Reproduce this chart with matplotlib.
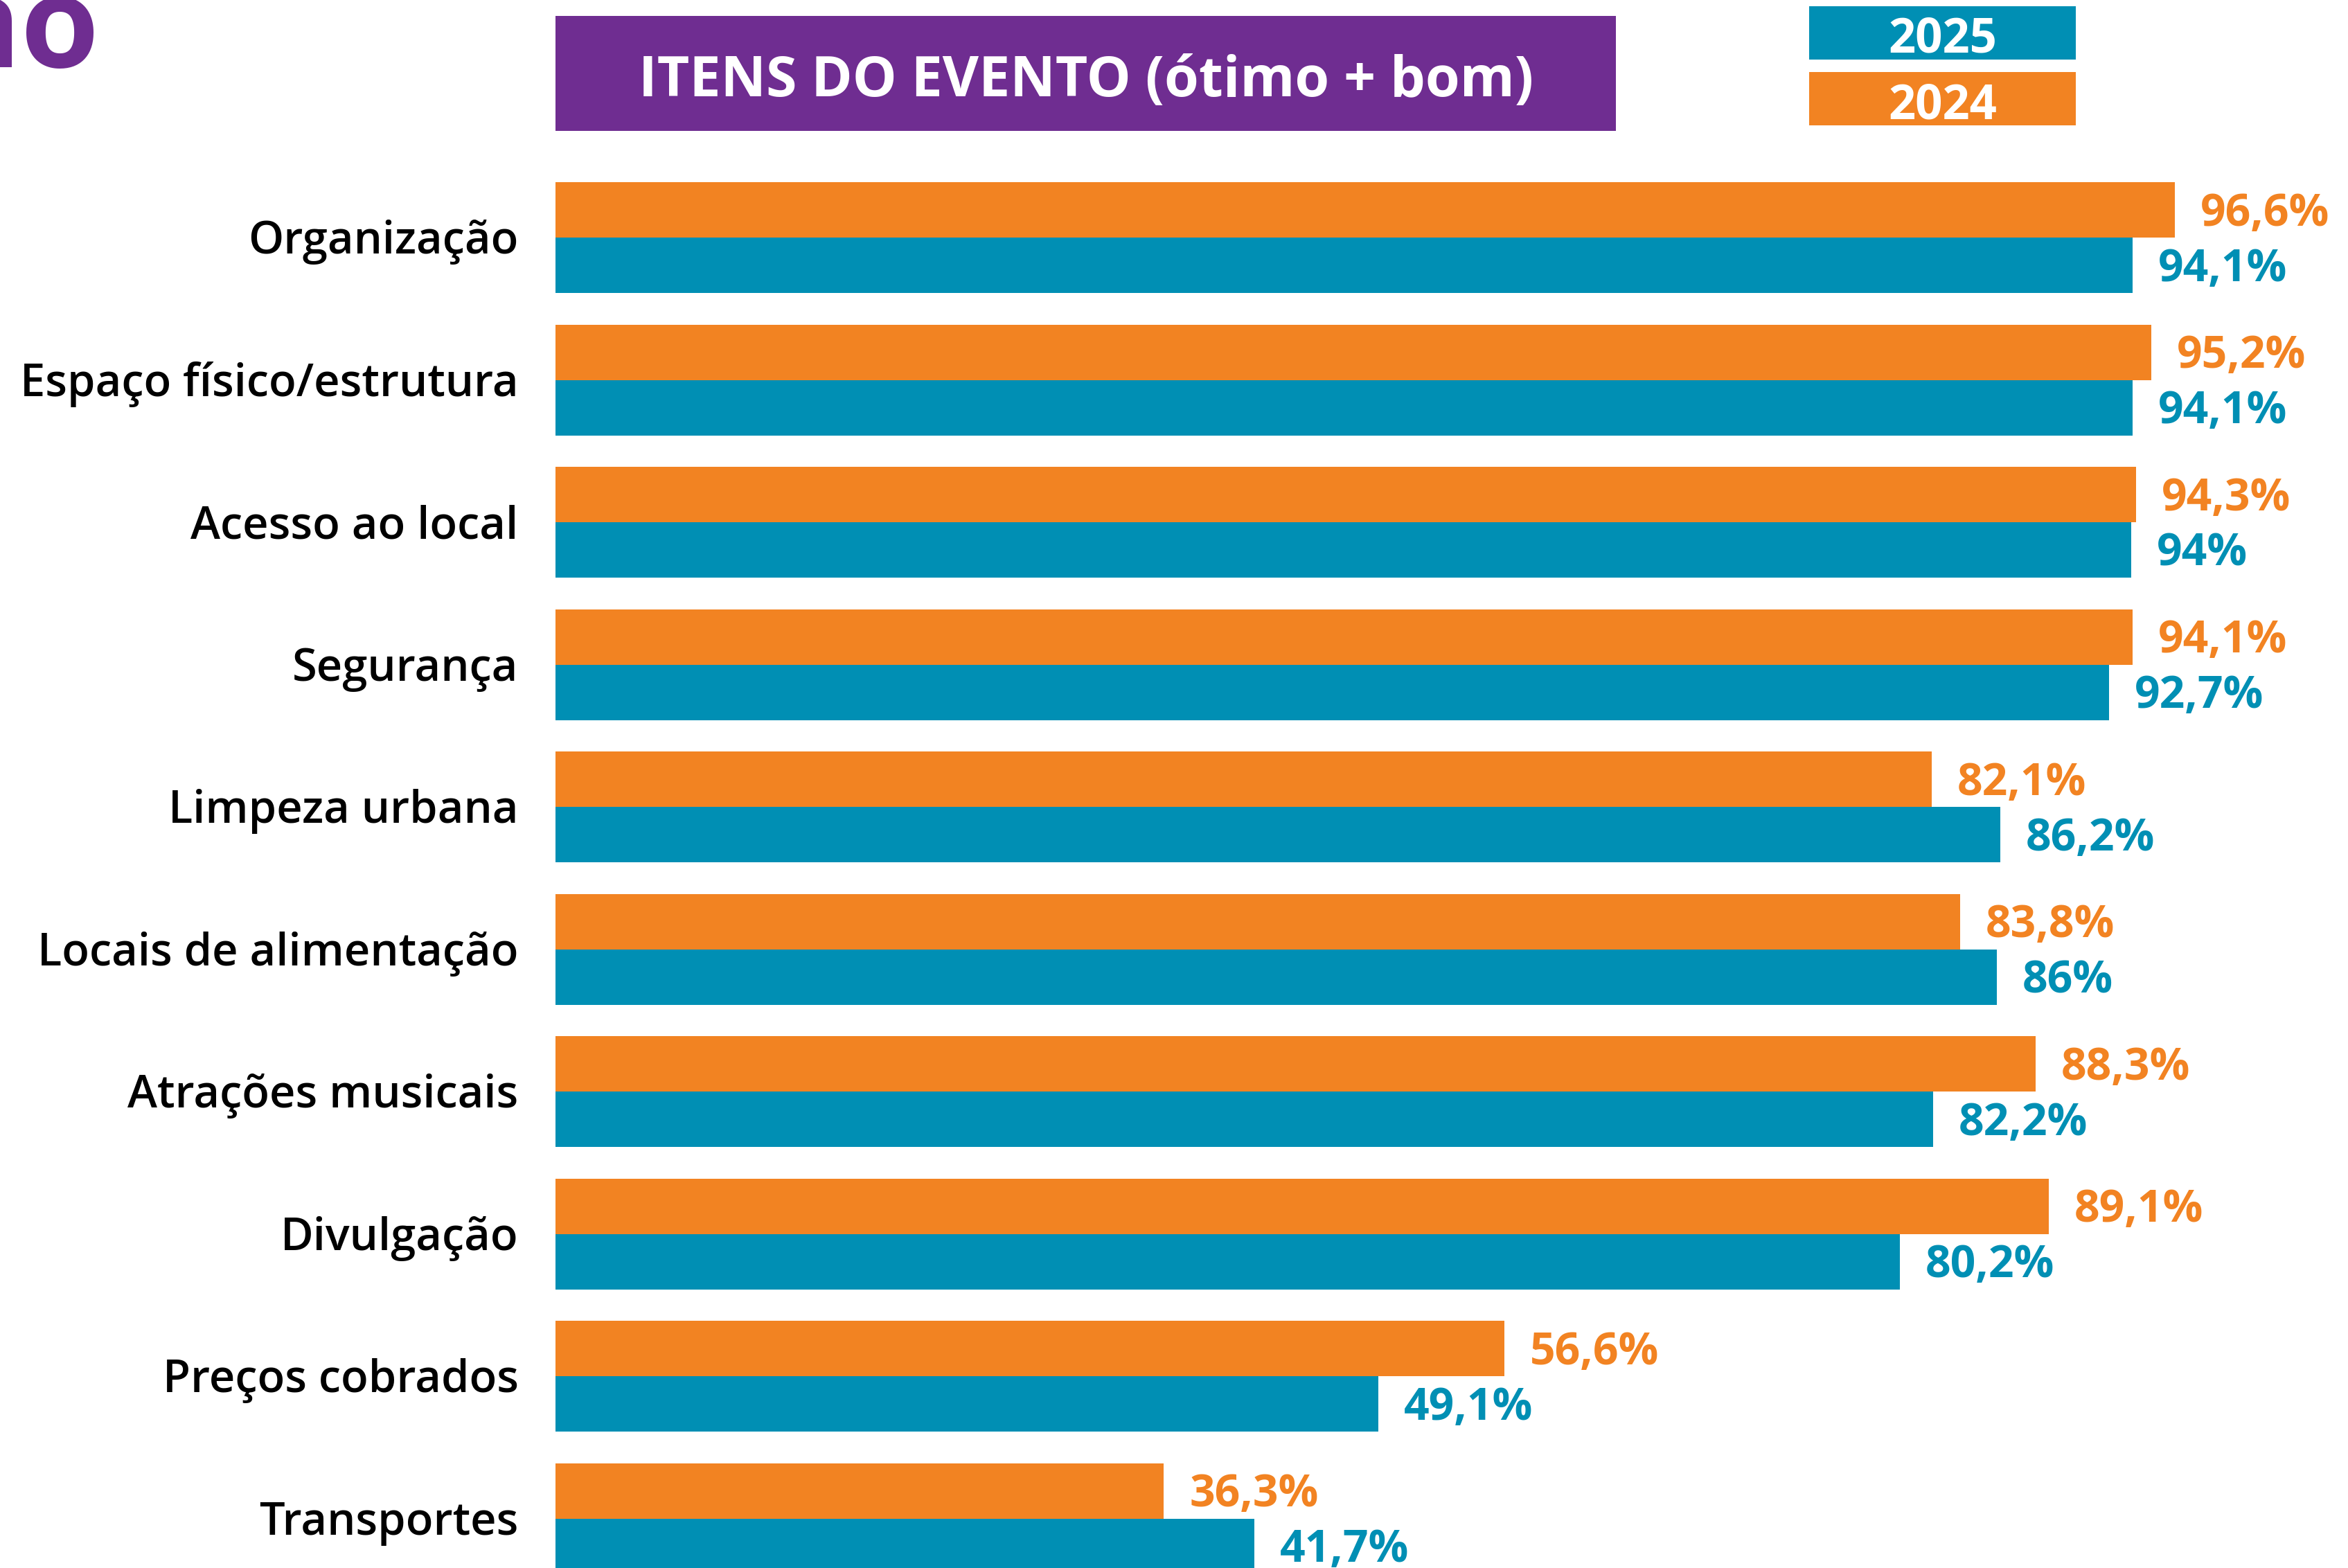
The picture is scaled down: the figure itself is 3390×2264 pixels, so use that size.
import matplotlib
matplotlib.use("Agg")
import matplotlib.pyplot as plt
from matplotlib.patches import Rectangle

# data
categories = ["Organização", "Espaço físico/estrutura", "Acesso ao local",
              "Segurança", "Limpeza urbana", "Locais de alimentação",
              "Atrações musicais", "Divulgação", "Preços cobrados",
              "Transportes"]
values_2024 = [96.6, 95.2, 94.3, 94.1, 82.1, 83.8, 88.3, 89.1, 56.6, 36.3]
values_2025 = [94.1, 94.1, 94.0, 92.7, 86.2, 86.0, 82.2, 80.2, 49.1, 41.7]
series_names = ["2025", "2024"]
title = "ITENS DO EVENTO (ótimo + bom)"

# colours
orange = "#F28322"
teal = "#008FB4"
purple = "#6F2D91"

plt.rcParams["font.family"] = ["Open Sans", "DejaVu Sans"]

W, H = 3391, 2264
DPI = 100
fig = plt.figure(figsize=(W / DPI, H / DPI), dpi=DPI, facecolor="white")


def fx(px):
    return px / W


def fy(py):
    return 1 - py / H


def fmt(v):
    s = f"{v:.1f}".replace(".", ",")
    if s.endswith(",0"):
        s = s[:-2]
    return s + "%"


# axes: x 0..100 spans 802px -> 3222px, rows 205.5px apart
pitch = 205.5
bar_h = 80 / pitch
first_center = 343
ax = fig.add_axes([fx(802), 0, fx(2420), 1])
ax.set_xlim(0, 100)
ax.set_ylim((H - first_center) / pitch, -first_center / pitch)
ax.axis("off")

rows = list(range(len(categories)))
ax.barh([r - bar_h / 2 for r in rows], values_2024, height=bar_h,
        color=orange, linewidth=0)
ax.barh([r + bar_h / 2 for r in rows], values_2025, height=bar_h,
        color=teal, linewidth=0)

# value labels
for r, v in zip(rows, values_2024):
    ax.annotate(fmt(v), (v, r - bar_h / 2), xytext=(26.6, -16.4),
                textcoords="offset points", ha="left", va="baseline",
                fontsize=46.2, fontweight="bold", color=orange,
                annotation_clip=False)
for r, v in zip(rows, values_2025):
    ax.annotate(fmt(v), (v, r + bar_h / 2), xytext=(26.6, -16.4),
                textcoords="offset points", ha="left", va="baseline",
                fontsize=46.2, fontweight="bold", color=teal,
                annotation_clip=False)

# category labels
for r, c in zip(rows, categories):
    ax.annotate(c, (0, r), xytext=(-38.5, -16.8), textcoords="offset points",
                ha="right", va="baseline", fontsize=46.8, fontweight="semibold",
                color="black", annotation_clip=False)

# title box
fig.add_artist(Rectangle((fx(802), fy(189)), fx(2333 - 802), (189 - 23) / H,
                         transform=fig.transFigure, color=purple, linewidth=0))
fig.text(fx(1568), fy(139), title, ha="center", va="baseline",
         fontsize=58, fontweight="bold", color="white")

# legend boxes
for name, col, top, bot in [(series_names[0], teal, 9, 86),
                            (series_names[1], orange, 104, 181)]:
    fig.add_artist(Rectangle((fx(2612), fy(bot)), fx(2997 - 2612),
                             (bot - top) / H, transform=fig.transFigure,
                             color=col, linewidth=0))
    fig.text(fx(2805), fy(bot - 10), name, ha="center", va="baseline",
             fontsize=49.5, fontweight="bold", color="white")

# cut-off heading word at the top left
fig.text(fx(144), fy(97), "ão", ha="right", va="baseline",
         fontsize=132, fontweight="bold", color=purple)

fig.savefig("out.png", dpi=DPI, facecolor="white")
